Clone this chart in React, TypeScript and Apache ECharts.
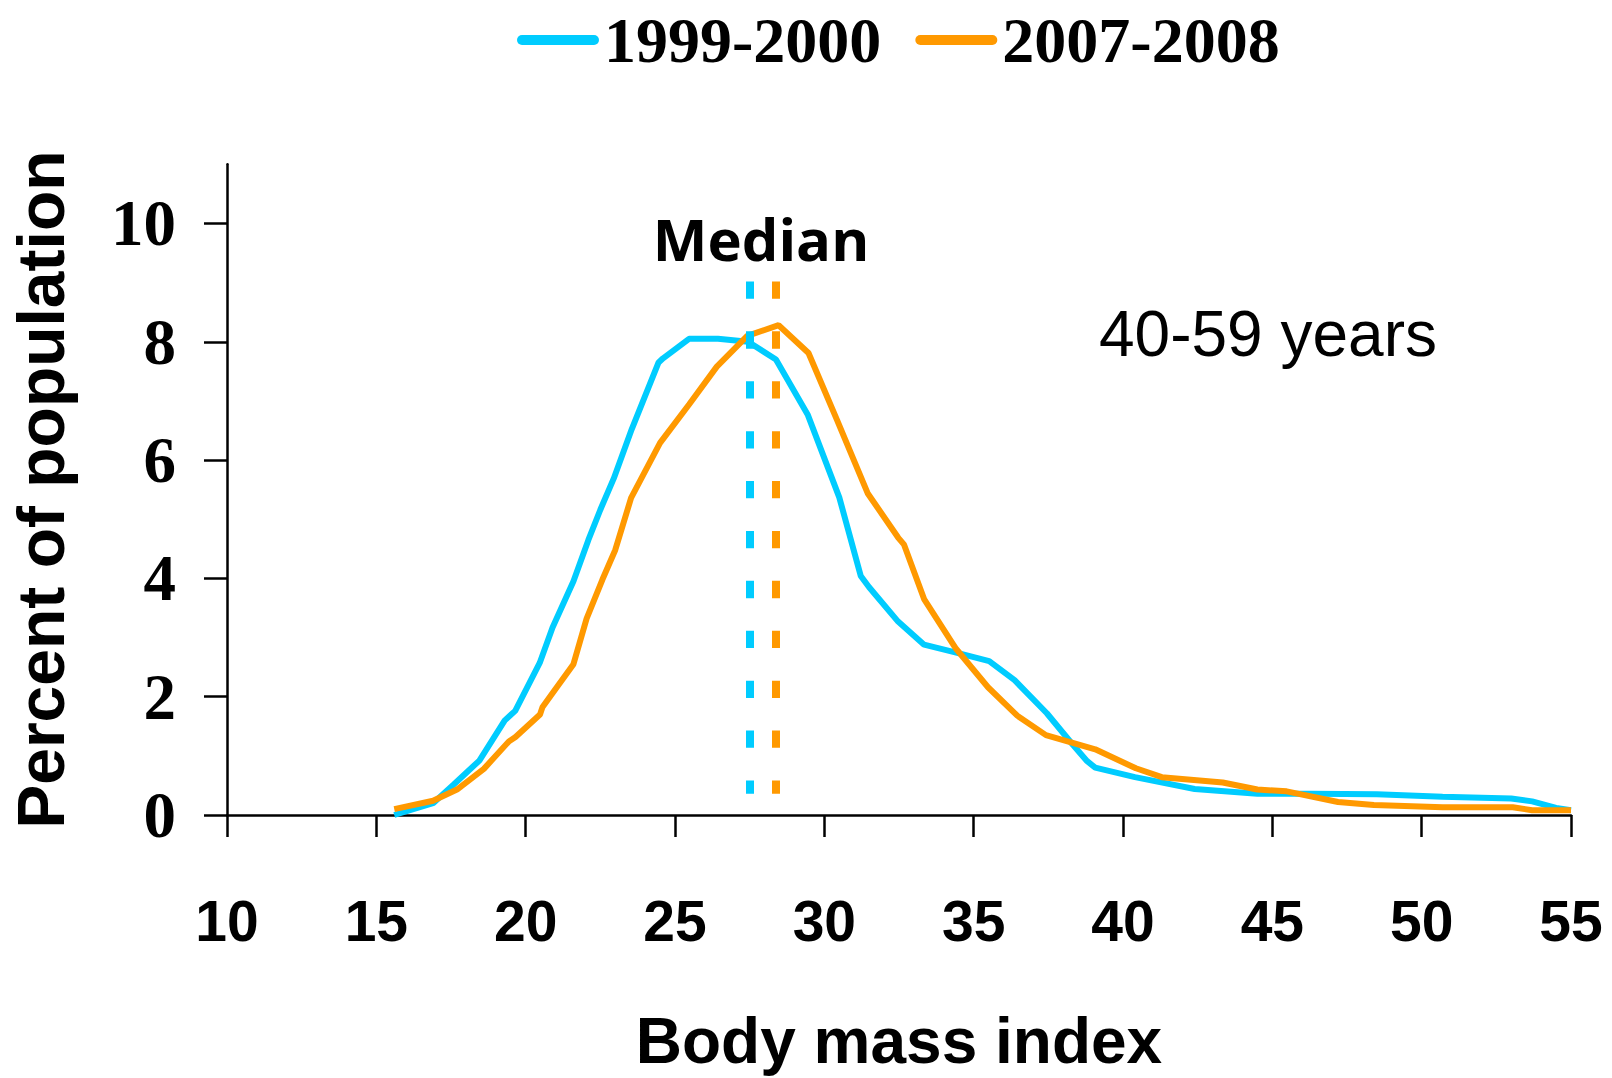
import React, { useEffect, useRef } from "react";
import * as echarts from "echarts";

const seriesNames = ["1999-2000", "2007-2008"];
const seriesColors = ["#00CCFF", "#FF9900"];

const bmi1999 = [15.6, 16.9, 17.6, 18.45, 19.3, 19.65, 20.47, 20.9, 21.6, 22.1, 22.5, 22.95, 23.55, 24.45, 24.6, 25.47, 26.44, 27.45, 28.38, 29.45, 30.5, 31.22, 31.5, 32.47, 33.34, 34.45, 35.52, 36.37, 37.45, 38.3, 38.8, 39.07, 40.4, 42.4, 44.5, 46.3, 48.5, 50.7, 53.0, 53.7, 54.5, 55];
const pct1999 = [0, 0.2, 0.52, 0.92, 1.6, 1.76, 2.57, 3.17, 3.95, 4.65, 5.16, 5.69, 6.52, 7.65, 7.72, 8.05, 8.05, 8.0, 7.7, 6.76, 5.37, 4.04, 3.85, 3.27, 2.88, 2.74, 2.6, 2.28, 1.72, 1.2, 0.91, 0.8, 0.64, 0.44, 0.36, 0.36, 0.35, 0.31, 0.28, 0.23, 0.12, 0.08];

const bmi2007 = [15.6, 16.9, 17.7, 18.6, 19.43, 19.66, 20.48, 20.56, 21.0, 21.6, 22.04, 22.57, 23.0, 23.53, 24.5, 25.47, 26.4, 27.42, 28.47, 29.47, 30.43, 31.45, 32.47, 32.67, 33.34, 34.41, 35.48, 36.46, 37.42, 39.07, 40.43, 41.3, 43.34, 44.5, 45.48, 47.2, 48.4, 50.7, 53.05, 53.7, 55];
const pct2007 = [0.1, 0.24, 0.43, 0.78, 1.24, 1.32, 1.7, 1.82, 2.13, 2.55, 3.32, 3.98, 4.48, 5.36, 6.29, 6.94, 7.58, 8.1, 8.28, 7.81, 6.67, 5.44, 4.69, 4.57, 3.65, 2.81, 2.16, 1.68, 1.35, 1.11, 0.79, 0.64, 0.55, 0.43, 0.4, 0.22, 0.17, 0.13, 0.13, 0.08, 0.08];

const medians = [27.49, 28.37];
const medianSpan = [9.02, 0.36];

const xTicks = [10, 15, 20, 25, 30, 35, 40, 45, 50, 55];
const yTicks = [0, 2, 4, 6, 8, 10];

const xAxisTitle = "Body mass index";
const yAxisTitle = "Percent of population";
const medianLabel = "Median";
const ageLabel = "40-59 years";

const SANS = "'Liberation Sans', Arial, sans-serif";
const SERIF = "'Liberation Serif', 'Times New Roman', serif";

export default function App() {
  const ref = useRef<HTMLDivElement>(null);

  useEffect(() => {
    const chart = echarts.init(ref.current!, null, { renderer: "svg" });
    const pairs = (xs: number[], ys: number[]) => xs.map((x, i) => [x, ys[i]]);
    const data = [pairs(bmi1999, pct1999), pairs(bmi2007, pct2007)];

    chart.setOption({
      animation: false,
      backgroundColor: "#ffffff",
      legend: {
        left: 512,
        top: 3,
        itemWidth: 82,
        itemHeight: 10,
        itemGap: 34,
        icon: "path://M5,0 H77 A5,5 0 0 1 77,10 H5 A5,5 0 0 1 5,0 Z",
        data: seriesNames,
        textStyle: { fontFamily: SERIF, fontWeight: "bold", fontSize: 64, color: "#000" },
      },
      grid: { left: 226, right: 41, top: 164.3, bottom: 257.3, containLabel: false },
      xAxis: {
        type: "value",
        min: 10,
        max: 55,
        interval: 5,
        name: xAxisTitle,
        nameLocation: "middle",
        nameGap: 194,
        nameTextStyle: { fontFamily: SANS, fontWeight: "bold", fontSize: 64, color: "#000" },
        axisLine: { show: true, onZero: false, lineStyle: { color: "#000", width: 2.5 } },
        axisTick: { show: true, length: 22, lineStyle: { color: "#000", width: 2.5 }, customValues: xTicks },
        axisLabel: { margin: 77, fontFamily: SANS, fontWeight: "bold", fontSize: 57, color: "#000", customValues: xTicks },
        splitLine: { show: false },
      },
      yAxis: {
        type: "value",
        min: 0,
        max: 11,
        interval: 2,
        name: yAxisTitle,
        nameLocation: "middle",
        nameGap: 153,
        nameTextStyle: { fontFamily: SANS, fontWeight: "bold", fontSize: 66, color: "#000" },
        axisLine: { show: true, lineStyle: { color: "#000", width: 2.5 } },
        axisTick: { show: true, length: 23, lineStyle: { color: "#000", width: 2.5 }, customValues: yTicks },
        axisLabel: { margin: 51, fontFamily: SERIF, fontWeight: "bold", fontSize: 65, color: "#000", customValues: yTicks },
        splitLine: { show: false },
      },
      series: seriesNames.map((name, i) => ({
        name,
        type: "line",
        data: data[i],
        showSymbol: false,
        symbol: "none",
        color: seriesColors[i],
        lineStyle: { color: seriesColors[i], width: 6 },
        itemStyle: { color: seriesColors[i] },
        z: 2 + i,
        markLine: {
          silent: true,
          symbol: ["none", "none"],
          label: { show: false },
          lineStyle: { color: seriesColors[i], width: 8, type: [17.3, 32.6], cap: "butt" },
          emphasis: { disabled: true },
          data: [[{ coord: [medians[i], medianSpan[0]] }, { coord: [medians[i], medianSpan[1]] }]],
        },
      })),
      graphic: [
        {
          type: "text",
          x: 761,
          y: 238,
          style: {
            text: medianLabel,
            align: "center",
            verticalAlign: "middle",
            fontFamily: "'Comic Sans MS', 'Open Sans', sans-serif",
            fontWeight: "bold",
            fontSize: 58,
            fill: "#000",
          },
        },
        {
          type: "text",
          x: 1268,
          y: 334,
          style: {
            text: ageLabel,
            align: "center",
            verticalAlign: "middle",
            fontFamily: SANS,
            fontSize: 64,
            fill: "#000",
          },
        },
      ],
    });

    return () => chart.dispose();
  }, []);

  return (
    <div
      ref={ref}
      style={{ position: "absolute", left: 0, top: 0, width: 1612, height: 1078, background: "#fff" }}
    />
  );
}
